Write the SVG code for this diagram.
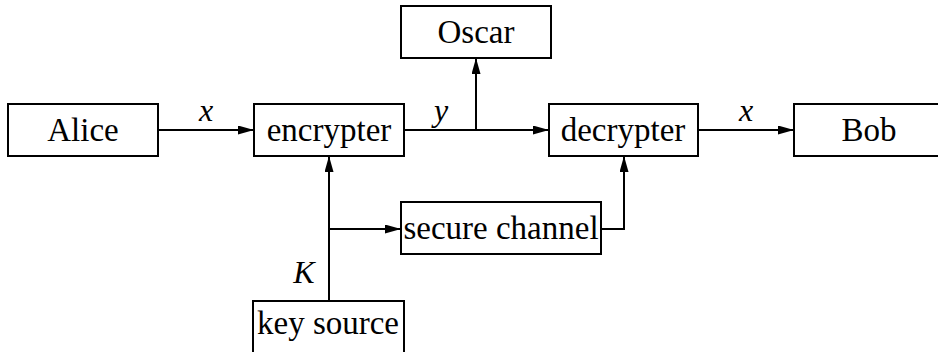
<svg xmlns="http://www.w3.org/2000/svg" width="938" height="352" viewBox="0 0 938 352">
<style>
.box{fill:#fff;stroke:#000;stroke-width:2}
.t{font-family:"Liberation Serif","Times New Roman",serif;font-size:33px;fill:#000;text-anchor:middle}
.i{font-family:"Liberation Serif","Times New Roman",serif;font-size:32px;font-style:italic;fill:#000;text-anchor:middle}
.c{fill:none;stroke:#000;stroke-width:2;marker-end:url(#ah)}
</style>
<defs>
<marker id="ah" viewBox="0 0 16 9" refX="16" refY="4.5" markerWidth="16" markerHeight="9" markerUnits="userSpaceOnUse" orient="auto">
<path d="M0,0 L16,4.5 L0,9 Z" fill="#000"/>
</marker>
</defs>
<rect width="938" height="352" fill="#fff"/>
<g id="connectors">
<path class="c" d="M158,130 H254"/>
<path class="c" d="M404,130 H549"/>
<path class="c" d="M476,130 V58"/>
<path class="c" d="M698,130 H794"/>
<path class="c" d="M329,301 V156"/>
<path class="c" d="M329,229 H401"/>
<path class="c" d="M601,229 H624 V156"/>
<text class="i" x="206" y="121">x</text>
<text class="i" x="441" y="121">y</text>
<text class="i" x="746" y="121">x</text>
<text class="i" x="304" y="283">K</text>
</g>
<g id="alice"><rect class="box" x="8" y="104" width="150" height="52"/><text class="t" x="83" y="141">Alice</text></g>
<g id="encrypter"><rect class="box" x="254" y="104" width="150" height="52"/><text class="t" x="329" y="141">encrypter</text></g>
<g id="oscar"><rect class="box" x="401" y="6" width="150" height="52"/><text class="t" x="476" y="43">Oscar</text></g>
<g id="decrypter"><rect class="box" x="549" y="104" width="149" height="52"/><text class="t" x="623" y="141">decrypter</text></g>
<g id="bob"><rect class="box" x="794" y="104" width="150" height="52"/><text class="t" x="869" y="141">Bob</text></g>
<g id="secure-channel"><rect class="box" x="401" y="202" width="200" height="52"/><text class="t" x="501" y="239">secure channel</text></g>
<g id="key-source"><rect class="box" x="253" y="301" width="151" height="52"/><text class="t" x="328" y="334">key source</text></g>
</svg>
